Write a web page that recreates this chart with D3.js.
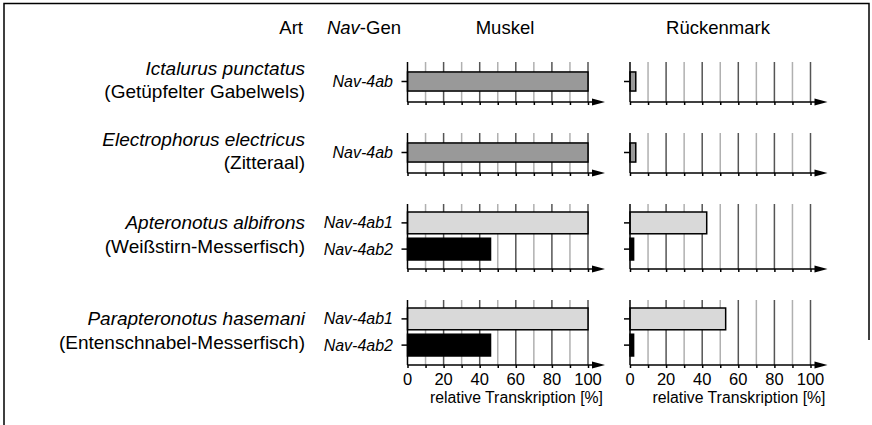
<!DOCTYPE html>
<html>
<head>
<meta charset="utf-8">
<script src="https://cdn.jsdelivr.net/npm/d3@7"></script>
<style>
  body { margin: 0; background: #fff; }
  text { font-family: "Liberation Sans", Arial, sans-serif; fill: #000; }
</style>
</head>
<body>
<svg id="chart" width="872" height="425"></svg>
<script>
// data
var species = ["Ictalurus punctatus", "Electrophorus electricus", "Apteronotus albifrons", "Parapteronotus hasemani"];
var commonNames = ["(Getüpfelter Gabelwels)", "(Zitteraal)", "(Weißstirn-Messerfisch)", "(Entenschnabel-Messerfisch)"];
var genes = [["Nav-4ab"], ["Nav-4ab"], ["Nav-4ab1", "Nav-4ab2"], ["Nav-4ab1", "Nav-4ab2"]];
var muskel = [[100], [100], [100, 46], [100, 46]];
var rueckenmark = [[3.2], [3.2], [42.5, 2], [53, 2]];
var tickLabels = [0, 20, 40, 60, 80, 100];

var geneColor = {"Nav-4ab": "#999999", "Nav-4ab1": "#d9d9d9", "Nav-4ab2": "#000000"};

var svg = d3.select("#chart");

// frame
svg.append("path")
  .attr("d", "M4,425 V3.5 H869 V340")
  .attr("fill", "none").attr("stroke", "#000").attr("stroke-width", 1.5);

var x_m = d3.scaleLinear().domain([0, 100]).range([407.5, 588]);
var x_r = d3.scaleLinear().domain([0, 100]).range([630, 810.5]);
var panels = [{x: x_m, vals: muskel}, {x: x_r, vals: rueckenmark}];

// header
var head = svg.append("g").attr("font-size", 18.5);
head.append("text").attr("x", 303).attr("y", 34).attr("text-anchor", "end").text("Art");
var ng = head.append("text").attr("x", 401).attr("y", 34).attr("text-anchor", "end");
ng.append("tspan").attr("font-style", "italic").text("Nav");
ng.append("tspan").text("-Gen");
head.append("text").attr("x", 505).attr("y", 34).attr("text-anchor", "middle").text("Muskel");
head.append("text").attr("x", 718).attr("y", 34).attr("text-anchor", "middle").text("Rückenmark");

var yTop = 62;
species.forEach(function(sp, gi) {
  var n = genes[gi].length;
  var h = n === 1 ? 40 : 65;
  var axisY = yTop + h;
  var y = d3.scaleBand().domain(genes[gi]).range([yTop + 8, axisY - 9]).paddingInner(0.17);
  var mid = (yTop + 8 + axisY - 9) / 2;

  // species labels
  svg.append("text").attr("x", 305).attr("y", mid - 7)
    .attr("text-anchor", "end").attr("font-size", 19).attr("font-style", "italic").text(sp);
  svg.append("text").attr("x", 305).attr("y", mid + 16.5)
    .attr("text-anchor", "end").attr("font-size", 19).text(commonNames[gi]);

  // gene labels
  genes[gi].forEach(function(g) {
    svg.append("text").attr("x", 393).attr("y", y(g) + y.bandwidth() / 2 + 5.5)
      .attr("text-anchor", "end").attr("font-size", 16).attr("font-style", "italic").text(g);
  });

  panels.forEach(function(p, pi) {
    var x = p.x;
    var g = svg.append("g");

    // grid
    g.selectAll(".grid").data(d3.range(10, 101, 10)).enter().append("line")
      .attr("x1", function(d) { return x(d); }).attr("x2", function(d) { return x(d); })
      .attr("y1", yTop).attr("y2", axisY)
      .attr("stroke", function(d) { return d % 20 === 0 ? "#555" : "#b0b0b0"; })
      .attr("stroke-width", 1.5);

    // bars
    g.selectAll(".bar").data(genes[gi]).enter().append("rect")
      .attr("x", x(0))
      .attr("y", function(d) { return y(d); })
      .attr("width", function(d, i) { return x(p.vals[gi][i]) - x(0); })
      .attr("height", y.bandwidth())
      .attr("fill", function(d) { return geneColor[d]; })
      .attr("stroke", "#000").attr("stroke-width", 1.5);

    // y axis line + ticks
    g.append("line").attr("x1", x(0)).attr("x2", x(0)).attr("y1", yTop).attr("y2", axisY)
      .attr("stroke", "#000").attr("stroke-width", 1.5);
    genes[gi].forEach(function(d) {
      var cy = y(d) + y.bandwidth() / 2;
      g.append("line").attr("x1", x(0) - 6).attr("x2", x(0)).attr("y1", cy).attr("y2", cy)
        .attr("stroke", "#000").attr("stroke-width", 1.5);
    });

    // x axis
    var xAxis = d3.axisBottom(x).tickValues(d3.range(0, 101, 10)).tickSize(3).tickFormat("");
    var ax = g.append("g").attr("transform", "translate(0," + axisY + ")").call(xAxis);
    ax.select(".domain").remove();
    ax.selectAll(".tick line").attr("stroke", "#000").attr("stroke-width", 1.5);
    var tipX = x(100) + 17;
    g.append("line").attr("x1", x(0)).attr("x2", tipX - 12).attr("y1", axisY).attr("y2", axisY)
      .attr("stroke", "#000").attr("stroke-width", 1.5);
    g.append("path")
      .attr("d", "M" + (tipX - 13) + "," + (axisY - 3.5) + " L" + tipX + "," + axisY + " L" + (tipX - 13) + "," + (axisY + 3.5) + "Z")
      .attr("fill", "#000");

    if (gi === species.length - 1) {
      g.selectAll(".tl").data(tickLabels).enter().append("text")
        .attr("x", function(d) { return x(d); }).attr("y", axisY + 20)
        .attr("text-anchor", "middle").attr("font-size", 16.5)
        .text(function(d) { return d; });
      g.append("text").attr("x", tipX - 2).attr("y", axisY + 38)
        .attr("text-anchor", "end").attr("font-size", 15.8).text("relative Transkription [%]");
    }
  });

  yTop = axisY + 31;
});
</script>
</body>
</html>
